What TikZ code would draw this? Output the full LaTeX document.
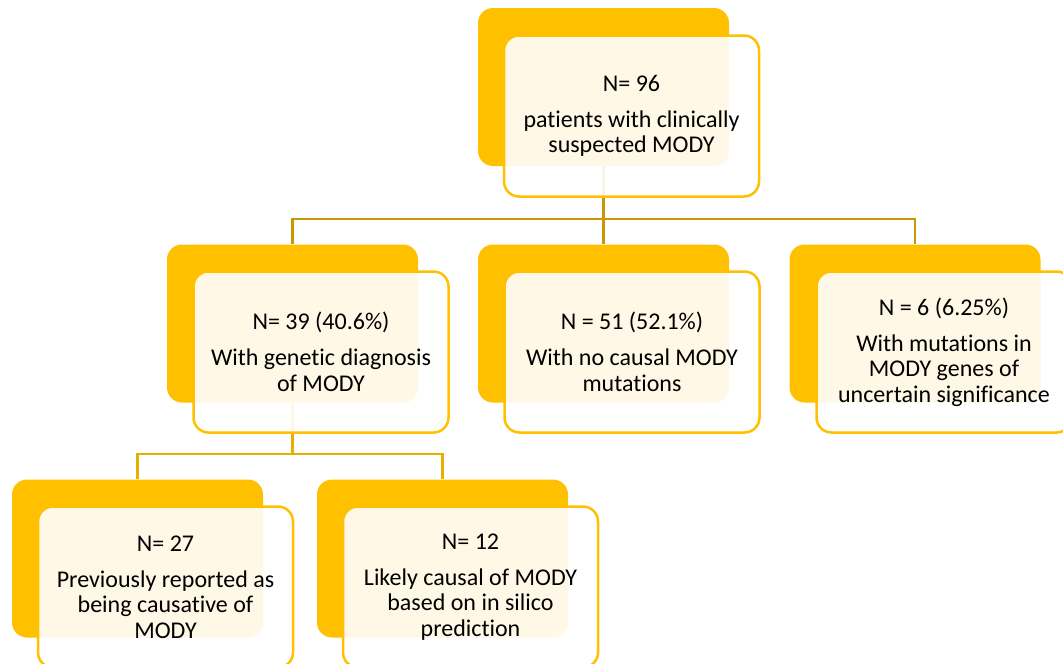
\documentclass[tikz,border=0pt]{standalone}
\usepackage{fontspec}
\setmainfont{Carlito}[Ligatures=NoCommon]
\definecolor{gold}{HTML}{FFC000}
\definecolor{connA}{HTML}{C99700}
\definecolor{connB}{HTML}{E8AE00}
\begin{document}
\begin{tikzpicture}[x=1pt,y=-1pt,
  backbox/.style={rectangle, rounded corners=15pt, fill=gold, inner sep=0pt,
    minimum width=251pt, minimum height=158pt},
  frontbox/.style={rectangle, rounded corners=15pt, draw=gold, line width=2.5pt,
    fill=white, fill opacity=0.9, text opacity=1, inner sep=0pt,
    minimum width=255pt, minimum height=161pt, align=center,
    font=\fontsize{24}{25.5}\selectfont},
  connone/.style={draw=connA, line width=2.5pt},
  conntwo/.style={draw=connB, line width=2.5pt}]
\useasboundingbox (0,0) rectangle (1063,664);
\clip (0,0) rectangle (1063,664);
% back boxes
\node[backbox] (b0) at (603.5,87) {};
\node[backbox] (b1) at (292.5,323.5) {};
\node[backbox] (b2) at (603.5,323.5) {};
\node[backbox] (b3) at (915,323.5) {};
\node[backbox] (b4) at (137.5,558.5) {};
\node[backbox] (b5) at (442.5,558.5) {};
% connectors
\coordinate (j1) at (603.5,219);
\coordinate (j2) at (292.5,454);
\draw[connone] (b0.south) -- (j1);
\draw[connone] (b1.north) |- (j1) -| (b3.north);
\draw[connone] (j1) -- (b2.north);
\draw[conntwo] (b1.south) -- (j2);
\draw[conntwo] (b4.north) |- (j2) -| (b5.north);
% front boxes
\node[frontbox] (f0) at (631.5,116) {N= 96\\[10.5pt]patients with clinically\\suspected MODY};
\node[frontbox] (f1) at (321,352) {N= 39 (40.6\%)\\[10.5pt]With genetic diagnosis\\of MODY};
\node[frontbox] (f2) at (632,352) {N = 51 (52.1\%)\\[10.5pt]With no causal MODY\\mutations};
\node[frontbox] (f3) at (944,352) {N = 6 (6.25\%)\\[10.5pt]With mutations in\\MODY genes of\\uncertain significance};
\node[frontbox] (f4) at (165.5,587) {N= 27\\[10.5pt]Previously reported as\\being causative of\\MODY};
\node[frontbox] (f5) at (470.5,587) {N= 12\\[10.5pt]Likely causal of MODY\\based on in silico\\prediction};
\end{tikzpicture}
\end{document}
